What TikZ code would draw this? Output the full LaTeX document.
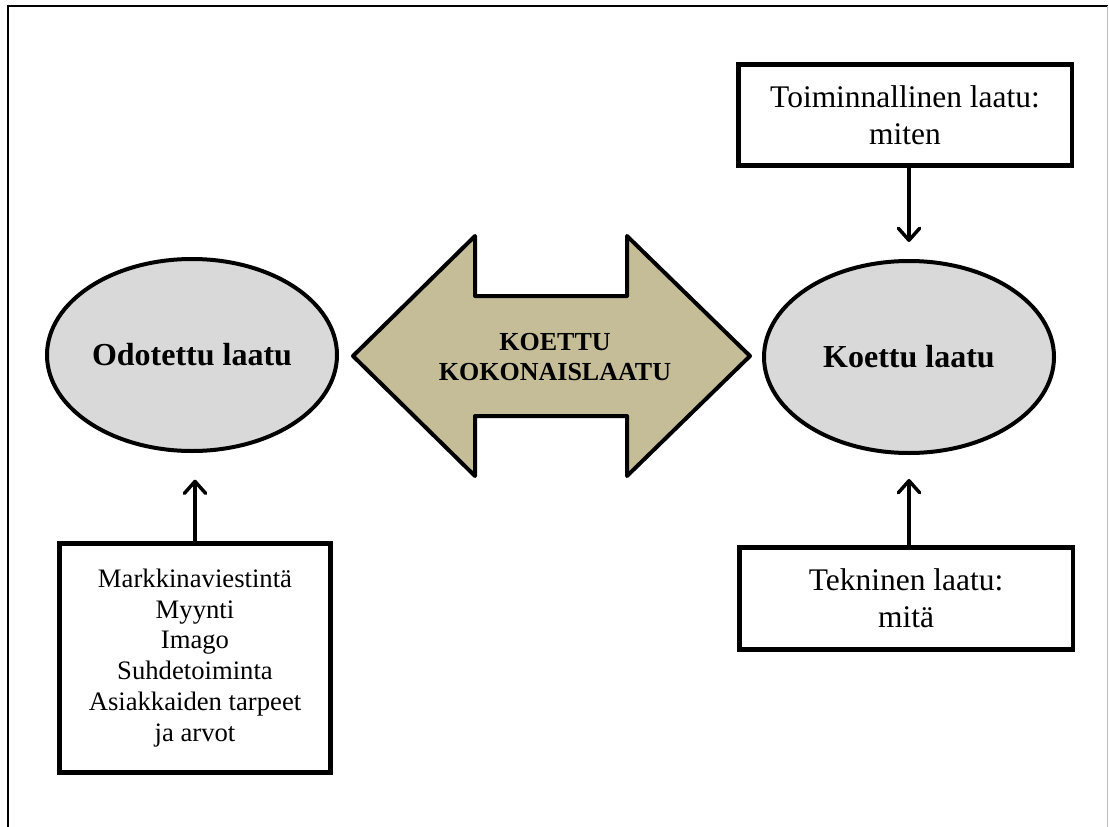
\documentclass[tikz,border=0pt]{standalone}
\usepackage{fontspec}
\setmainfont{Liberation Serif}
\usetikzlibrary{shapes.geometric,arrows.meta}
\definecolor{arrowtan}{HTML}{C4BD97}
\definecolor{ovalgrey}{HTML}{D9D9D9}
\definecolor{framegrey}{HTML}{BDBDBD}
\tikzset{
  oval/.style={ellipse, draw, fill=ovalgrey, line width=3pt, inner sep=0pt,
    minimum width=290*0.75pt, minimum height=192*0.75pt,
    font=\bfseries\fontsize{24}{27.6}\selectfont},
  textbox/.style={draw, line width=3.4pt, align=center, inner sep=0pt,
    font=\fontsize{23.6}{27.6}\selectfont},
  listbox/.style={draw, line width=3.4pt, align=center, inner sep=0pt,
    font=\fontsize{20}{23.2}\selectfont},
  conn/.style={line width=2.6pt, -{Straight Barb[length=9pt,width=16pt,round]}},
  bigarrow/.style={fill=arrowtan, draw, line width=3pt, line join=round},
  arrowtext/.style={align=center, font=\bfseries\fontsize{19.5}{22.6}\selectfont}
}
\begin{document}
\begin{tikzpicture}[x=0.75pt,y=-0.75pt]
\useasboundingbox (0,0) rectangle (1109,827);

% page frame
\draw[line width=1.5pt] (8,840) -- (8,6) -- (1108,6);
\draw[framegrey, line width=1pt] (1107.5,6) -- (1107.5,840);

% double-headed arrow in the middle
\draw[bigarrow] (353,356) -- (475,236) -- (475,296) -- (627,296) -- (627,236)
  -- (750,356) -- (627,476) -- (627,416) -- (475,416) -- (475,476) -- cycle;
\node[arrowtext] (kok) at (555,357) {KOETTU\\KOKONAISLAATU};

% quality ovals
\node[oval] (odo) at (192,355) {Odotettu laatu};
\node[oval] (koe) at (909,357) {Koettu laatu};

% text boxes
\node[textbox, minimum width=333.5*0.75pt, minimum height=101.5*0.75pt]
  (toim) at (905,115) {Toiminnallinen laatu:\\miten};
\node[textbox, minimum width=333.5*0.75pt, minimum height=102.5*0.75pt]
  (tek) at (906,598.5) {Tekninen laatu:\\mitä};
\node[listbox, minimum width=271.5*0.75pt, minimum height=229.5*0.75pt]
  (tek2) at (195,658) {Markkinaviestintä\\Myynti\\Imago\\Suhdetoiminta\\Asiakkaiden tarpeet\\ja arvot};

% connectors
\draw[conn, shorten >=12.75pt] (koe.north |- toim.south) -- (koe.north);
\draw[conn, shorten >=18pt] (koe.south |- tek.north) -- (koe.south);
\draw[conn, shorten >=20pt] (tek2.north) -- (tek2.north |- odo.south);
\end{tikzpicture}
\end{document}
